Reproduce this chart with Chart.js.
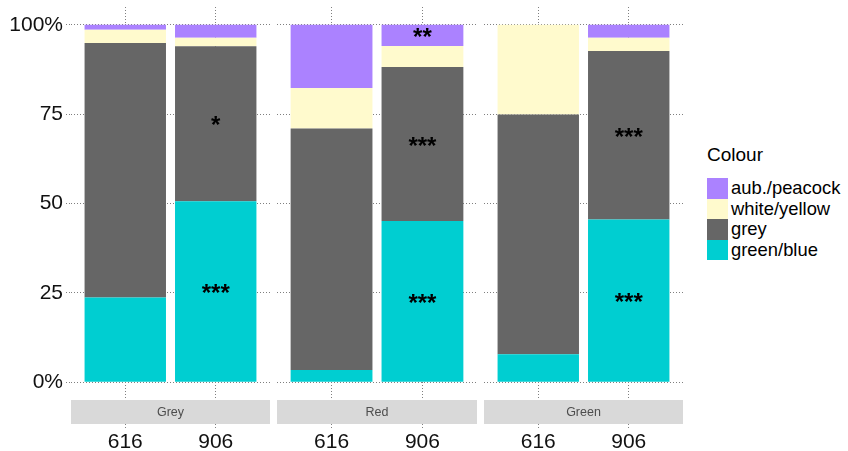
<!DOCTYPE html>
<html><head><meta charset="utf-8">
<script src="https://cdn.jsdelivr.net/npm/chart.js@4/dist/chart.umd.min.js"></script>
<style>
body{margin:0;background:#fff;width:848px;height:451px;overflow:hidden;position:relative;font-family:"Liberation Sans",Arial,sans-serif;}
canvas{position:absolute;top:0;}
#legend{position:absolute;left:706px;top:144px;color:#000;}
#legend .title{font-size:19px;line-height:22px;margin-left:1px;margin-bottom:12px;}
#legend .item{position:relative;height:20.5px;white-space:nowrap;}
#legend .sw{position:absolute;left:1px;top:0;width:21px;height:20.5px;}
#legend .lab{position:absolute;left:25px;top:-1px;font-size:18.4px;line-height:22px;}
</style></head><body>
<canvas id="c0" width="270" height="451" style="left:0px"></canvas>
<canvas id="c1" width="200" height="451" style="left:277px"></canvas>
<canvas id="c2" width="199" height="451" style="left:484px"></canvas>
<div id="legend"></div>
<script>
// ---- data ----
const categories = ['616', '906'];
const facets = ['Grey', 'Red', 'Green'];
const seriesNames = ['green/blue', 'grey', 'white/yellow', 'aub./peacock'];
const seriesColors = ['#00CED1', '#666666', '#FFFACD', '#AB82FF'];
// values per facet x category: Grey616, Grey906, Red616, Red906, Green616, Green906
const greenBlue   = [23.7, 50.6,  3.4, 45.1,  7.8, 45.5];
const grey        = [71.2, 43.4, 67.6, 43.1, 67.1, 47.2];
const whiteYellow = [ 3.7,  2.4, 11.3,  5.9, 25.1,  3.7];
const aubPeacock  = [ 1.4,  3.6, 17.7,  5.9,  0.0,  3.6];
// significance labels
const sigGreenBlue   = ['', '***', '', '***', '', '***'];
const sigGrey        = ['', '*',   '', '***', '', '***'];
const sigWhiteYellow = ['', '',    '', '',    '', ''];
const sigAubPeacock  = ['', '',    '', '**',  '', ''];
const yTicks = [0, 25, 50, 75, 100];
const yTickLabels = ['0%', '25', '50', '75', '100%'];
const legendTitle = 'Colour';

const FONT = '"Liberation Sans", Arial, sans-serif';
const GRID = '#7f7f7f';

const sigPlugin = {
  id: 'sig',
  afterDatasetsDraw(chart) {
    const ctx = chart.ctx;
    ctx.save();
    ctx.font = 'bold 24px ' + FONT;
    ctx.fillStyle = '#000';
    ctx.textAlign = 'center';
    ctx.textBaseline = 'middle';
    chart.data.datasets.forEach((ds, i) => {
      chart.getDatasetMeta(i).data.forEach((bar, j) => {
        const t = ds.sig[j];
        if (t) ctx.fillText(t, bar.x, (bar.y + bar.base) / 2 + 3);
      });
    });
    ctx.restore();
  }
};

const stripPlugin = {
  id: 'strip',
  afterDraw(chart, args, opts) {
    const ctx = chart.ctx;
    const {left, right, bottom} = chart.chartArea;
    ctx.save();
    ctx.fillStyle = '#d9d9d9';
    ctx.fillRect(left, bottom, right - left, 24);
    ctx.fillStyle = '#4d4d4d';
    ctx.font = '12.5px ' + FONT;
    ctx.textAlign = 'center';
    ctx.textBaseline = 'middle';
    ctx.fillText(opts.text, (left + right) / 2, bottom + 12.5);
    ctx.restore();
  }
};

const seriesValues = [greenBlue, grey, whiteYellow, aubPeacock];
const seriesSig = [sigGreenBlue, sigGrey, sigWhiteYellow, sigAubPeacock];

function makeChart(f, id, showY) {
  const datasets = seriesNames.map((name, s) => ({
    label: name,
    data: categories.map((c, j) => ({x: j + 1, y: seriesValues[s][f * 2 + j]})),
    sig: categories.map((c, j) => seriesSig[s][f * 2 + j]),
    backgroundColor: seriesColors[s],
    borderWidth: 0,
    barPercentage: 0.9,
    categoryPercentage: 1
  }));
  return new Chart(document.getElementById(id), {
    type: 'bar',
    data: {datasets},
    plugins: [sigPlugin, stripPlugin],
    options: {
      responsive: false,
      animation: false,
      devicePixelRatio: 1,
      layout: {padding: {top: 7, left: 0, right: 0, bottom: 0}},
      plugins: {legend: {display: false}, tooltip: {enabled: false}, strip: {text: facets[f]}},
      scales: {
        x: {
          type: 'linear', min: 0.4, max: 2.6, stacked: true, offset: false,
          afterBuildTicks: s => { s.ticks = categories.map((c, j) => ({value: j + 1})); },
          ticks: {callback: v => categories[v - 1], font: {size: 21, family: FONT}, color: '#111', padding: 2, maxRotation: 0, autoSkip: false},
          grid: {offset: false, color: GRID, lineWidth: 1, tickLength: 28, drawTicks: true, tickColor: GRID, tickBorderDash: [1, 2]},
          border: {display: false, dash: [1, 2]},
          afterFit: s => { s.height = 51; s.paddingLeft = 0; s.paddingRight = 0; }
        },
        y: {
          type: 'linear', min: -5, max: 105, stacked: true,
          afterBuildTicks: s => { s.ticks = yTicks.map(v => ({value: v})); },
          ticks: {display: showY, callback: v => yTickLabels[yTicks.indexOf(v)], font: {size: 21, family: FONT}, color: '#111', padding: 3},
          grid: {color: GRID, lineWidth: 1, tickLength: 5, drawTicks: showY, tickColor: GRID, tickBorderDash: [1, 2]},
          border: {display: false, dash: [1, 2]},
          afterFit: s => { s.width = showY ? 71 : 0; s.paddingTop = 0; s.paddingBottom = 0; }
        }
      }
    }
  });
}

makeChart(0, 'c0', true);
makeChart(1, 'c1', false);
makeChart(2, 'c2', false);

// legend (HTML)
const lg = document.getElementById('legend');
let html = '<div class="title">' + legendTitle + '</div>';
for (let s = seriesNames.length - 1; s >= 0; s--) {
  html += '<div class="item"><div class="sw" style="background:' + seriesColors[s] + '"></div><div class="lab">' + seriesNames[s] + '</div></div>';
}
lg.innerHTML = html;
</script>
</body></html>
